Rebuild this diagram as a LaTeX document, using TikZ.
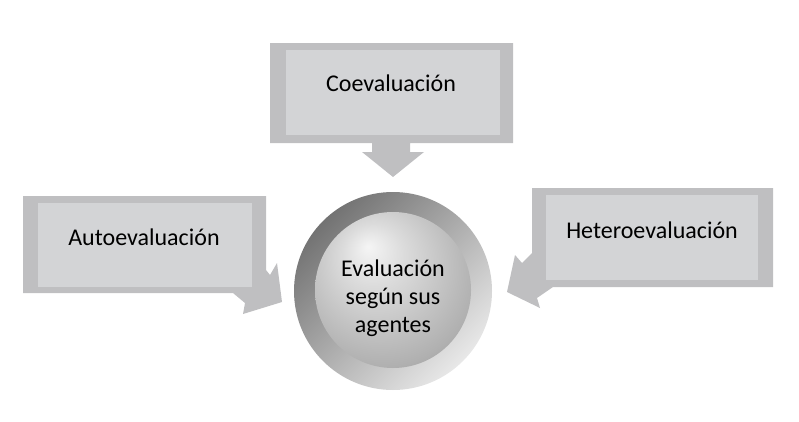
\documentclass[tikz,border=0pt]{standalone}
\usepackage{fontspec}
\setmainfont{Carlito}
\definecolor{boxdark}{RGB}{191,191,193}
\definecolor{boxlight}{RGB}{211,212,214}
\pgfdeclareradialshading{innerball}{\pgfpoint{-8bp}{14bp}}{color(0bp)=(white!92!gray); color(10bp)=(white!72!gray); color(30bp)=(gray!62); color(50bp)=(gray!85!black)}

\begin{document}
\begin{tikzpicture}[x=0.75pt,y=-0.75pt,
    txt/.style={font=\fontsize{18}{21}\selectfont, align=center}]
  \useasboundingbox (0,0) rectangle (799,421);
  % callouts
  \fill[boxdark] (270,43) -- (513,43) -- (513,143) -- (410,143) -- (410,152)
    -- (424,152) -- (393,177) -- (362,152) -- (372,152) -- (372,143)
    -- (270,143) -- cycle;
  \fill[boxlight] (286,50) rectangle (500,135);
  \fill[boxdark] (23,196) -- (266,196) -- (266,270) -- (270,275) -- (277,263)
    -- (282,302) -- (243,314) -- (245,303) -- (233,293) -- (23,293) -- cycle;
  \fill[boxlight] (38,203) rectangle (252,287);
  \fill[boxdark] (532,188) -- (773,188) -- (773,287) -- (553,287) -- (537,298)
    -- (540,308) -- (507,292) -- (515,255) -- (522,263) -- (532,253) -- cycle;
  \fill[boxlight] (546,195) rectangle (758,280);
  % circle
  \shade[top color=gray!90!black, bottom color=white!82!gray, shading angle=45]
    (393,291) circle (99);
  \shade[shading=innerball] (393,290) circle (78);
  \draw
    (391,83) node[txt] (coev) {Coevaluación}
    (144,237) node[txt] (auto) {Autoevaluación}
    (652,230) node[txt] (hetero) {Heteroevaluación}
    (393,298) node[txt] (agentes) {Evaluación\\según sus\\agentes};
\end{tikzpicture}
\end{document}
